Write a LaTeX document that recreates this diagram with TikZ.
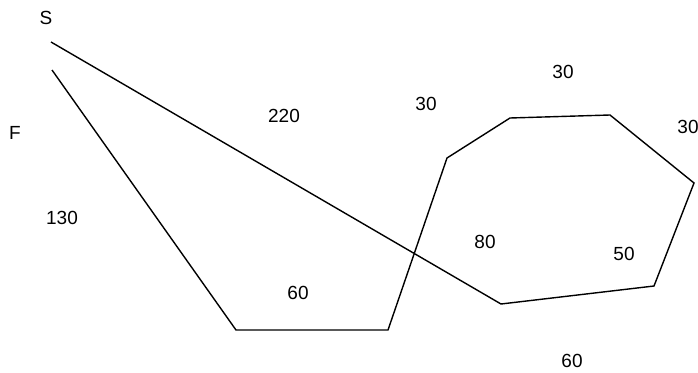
\documentclass[tikz,border=0pt]{standalone}
\usepackage{fontspec}
\setmainfont{Liberation Sans}
\begin{document}
\begin{tikzpicture}[x=1pt,y=-1pt,
  lbl/.style={inner sep=0pt, font=\fontsize{19}{22}\selectfont},
  edge/.style={line width=1.4pt, line join=miter}]
\useasboundingbox (0,0) rectangle (698,372);
% vertices
\coordinate (s1) at (51,42);
\coordinate (f1) at (52,70);
\coordinate (b1) at (236,330);
\coordinate (b2) at (388,330);
\coordinate (p1) at (447,158);
\coordinate (p2) at (510,118);
\coordinate (p3) at (610,115);
\coordinate (p4) at (694,183);
\coordinate (p5) at (654,286);
\coordinate (p6) at (501,304);
% edges
\draw[edge] (s1) -- (p6) -- (p5) -- (p4) -- (p3) -- (p2) -- (p1) -- (b2) -- (b1) -- (f1);
% labels
\node[lbl] (tS) at (46,18) {S};
\node[lbl] (tF) at (15,133) {F};
\node[lbl] (t130) at (62,218) {130};
\node[lbl] (t220) at (284,116) {220};
\node[lbl] (t30a) at (426,104) {30};
\node[lbl] (t30b) at (563,72) {30};
\node[lbl] (t30c) at (688,127) {30};
\node[lbl] (t80) at (485,242) {80};
\node[lbl] (t50) at (624,254) {50};
\node[lbl] (t60a) at (298,293) {60};
\node[lbl] (t60b) at (572,361) {60};
\end{tikzpicture}
\end{document}
